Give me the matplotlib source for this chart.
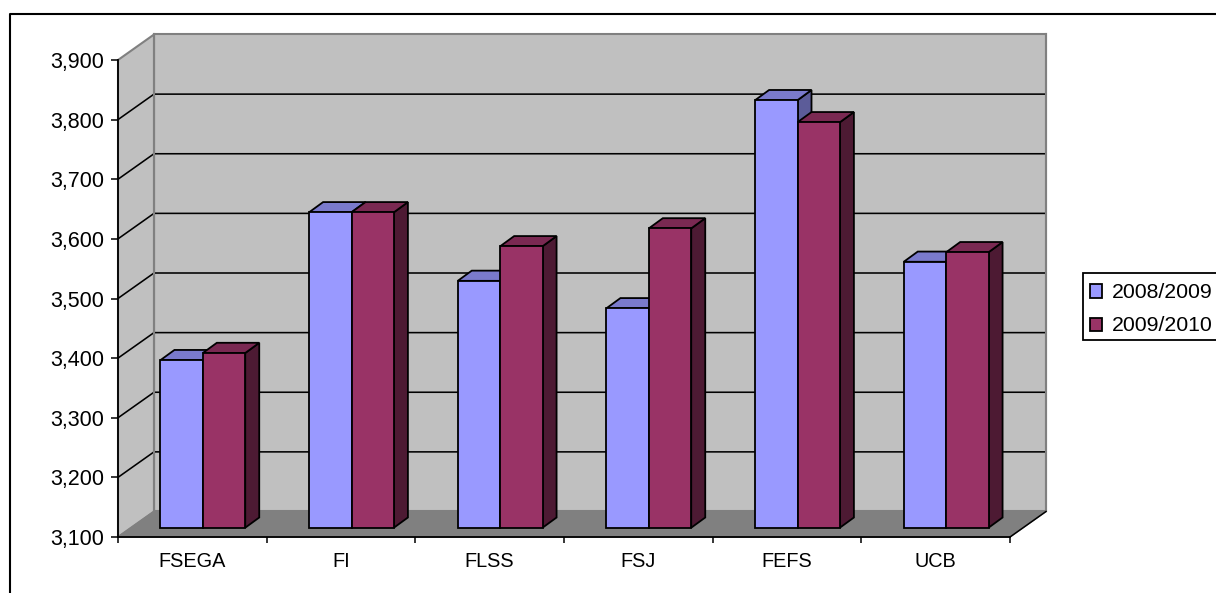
import matplotlib
matplotlib.use("Agg")
import matplotlib.pyplot as plt
from matplotlib.lines import Line2D
from matplotlib.patches import Polygon, Patch

categories = ["FSEGA", "FI", "FLSS", "FSJ", "FEFS", "UCB"]
series_names = ["2008/2009", "2009/2010"]
values_2008 = [3381, 3629, 3514, 3468, 3817, 3546]
values_2009 = [3393, 3629, 3572, 3602, 3780, 3562]
y_ticks = [3100, 3200, 3300, 3400, 3500, 3600, 3700, 3800, 3900]
y_labels = ["3,100", "3,200", "3,300", "3,400", "3,500", "3,600", "3,700", "3,800", "3,900"]

FRONT = {"2008/2009": "#9999FF", "2009/2010": "#993366"}
TOP = {"2008/2009": "#7A7ACC", "2009/2010": "#7A2952"}
SIDE = {"2008/2009": "#5C5C99", "2009/2010": "#4D1A33"}

W, H = 1216, 593
plt.rcParams["font.family"] = ["Liberation Sans", "DejaVu Sans"]
fig = plt.figure(figsize=(W / 100, H / 100), dpi=100, facecolor="white")
L, R, B, T = 118, 1010, 537, 60
ax = fig.add_axes([L / W, (H - B) / H, (R - L) / W, (B - T) / H])
ax.set_xlim(0, len(categories))
ax.set_ylim(y_ticks[0], y_ticks[-1])
ax.patch.set_visible(False)

px_x = (R - L) / len(categories)              # pixels per category
px_y = (B - T) / (y_ticks[-1] - y_ticks[0])   # pixels per value unit
def ox(p): return p / px_x
def oy(p): return p / px_y

y0, y1 = y_ticks[0], y_ticks[-1]
nc = len(categories)
dx, dy = ox(36), oy(25.5)
GREY = "#808080"
WALL = "#C0C0C0"

def poly(pts, fc, ec, lw, z):
    ax.add_patch(Polygon(pts, closed=True, facecolor=fc, edgecolor=ec, linewidth=lw,
                         zorder=z, clip_on=False, joinstyle="miter"))

# walls and floor
poly([(dx, y0 + dy), (nc + dx, y0 + dy), (nc + dx, y1 + dy), (dx, y1 + dy)], WALL, GREY, 1.5, 1)
poly([(0, y0), (dx, y0 + dy), (dx, y1 + dy), (0, y1)], WALL, GREY, 1.5, 1)
poly([(0, y0), (nc, y0), (nc + dx, y0 + dy), (dx, y0 + dy)], GREY, GREY, 1.0, 1)

# gridlines
for t in y_ticks[1:-1]:
    ax.plot([0, dx, nc + dx], [t, t + dy, t + dy], color="black", lw=1.15, zorder=2,
            clip_on=False, solid_capstyle="butt")
# redraw wall verticals over the grid ends
ax.plot([dx, dx], [y0 + dy, y1 + dy], color=GREY, lw=1.5, zorder=2.1, clip_on=False)
ax.plot([nc + dx, nc + dx], [y0 + dy, y1 + dy], color=GREY, lw=1.5, zorder=2.1, clip_on=False)
ax.plot([nc, nc + dx], [y0, y0 + dy], color="black", lw=1.1, zorder=2.1, clip_on=False)

# 3D bars
bw = ox(42.4)
off_x, off_y = ox(10.5), oy(9.3)
sx, sy = ox(14), oy(10.2)
zbar = 3
for i in range(nc):
    left = i + 0.5 - bw + off_x
    for j, (name, vals) in enumerate(zip(series_names, [values_2008, values_2009])):
        a = left + j * bw
        b = a + bw
        base = y0 + off_y
        top = vals[i] + off_y
        poly([(b, base), (b + sx, base + sy), (b + sx, top + sy), (b, top)],
             SIDE[name], "black", 1.3, zbar)
        poly([(a, top), (b, top), (b + sx, top + sy), (a + sx, top + sy)],
             TOP[name], "black", 1.3, zbar)
        poly([(a, base), (b, base), (b, top), (a, top)],
             FRONT[name], "black", 1.3, zbar + 0.1)
        zbar += 0.2

# axes
for s in ("top", "right"):
    ax.spines[s].set_visible(False)
for s in ("left", "bottom"):
    ax.spines[s].set_linewidth(1.3)
    ax.spines[s].set_zorder(10)
ax.set_yticks(y_ticks, y_labels, fontsize=15.5, color="black")
ax.set_xticks(range(nc + 1))
ax.set_xticks([i + 0.5 for i in range(nc)], categories, minor=True, fontsize=14.3, color="black")
ax.set_xticklabels([])
ax.tick_params(axis="y", length=5, width=1.1, pad=5)
ax.tick_params(axis="x", which="major", length=4.3, width=1.1)
ax.tick_params(axis="x", which="minor", length=0, pad=11)

# legend
handles = [Patch(facecolor=FRONT[n], edgecolor="black", linewidth=1.3) for n in series_names]
leg = ax.legend(handles, series_names, loc="center left",
                bbox_to_anchor=(1083 / W, (H - 306.5) / H), bbox_transform=fig.transFigure,
                fontsize=15.3, fancybox=False, framealpha=1, edgecolor="black",
                handlelength=0.57, handleheight=0.57, handletextpad=0.47,
                borderpad=0.34, labelspacing=0.7, borderaxespad=0)
leg.get_frame().set_linewidth(1.3)
leg.set_clip_on(False)
for txt in leg.get_texts():
    txt.set_y(-2.5)
for h in leg.legend_handles:
    h.set_y(h.get_y() - 2.5)

# outer chart frame, cut by the image edge
fig.add_artist(Line2D([10.2 / W, 10.2 / W, 1], [0, (H - 14) / H, (H - 14) / H],
                      transform=fig.transFigure, color="black", lw=1.5))

fig.savefig("out.png", dpi=100, facecolor="white")
